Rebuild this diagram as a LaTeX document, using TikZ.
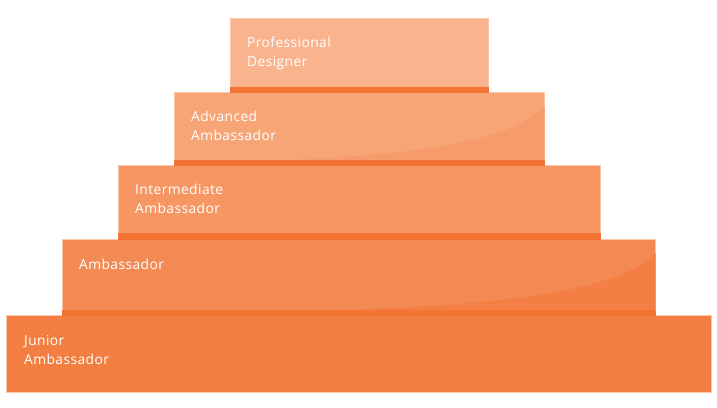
\documentclass[tikz,border=0pt]{standalone}
\usepackage{fontspec}
\setmainfont[LetterSpace=3]{Open Sans}
\usepackage{xcolor}
\usepackage{tikz}
\usetikzlibrary{positioning,calc}
\definecolor{tierA}{HTML}{F9B48E}
\definecolor{tierB}{HTML}{F7A576}
\definecolor{tierBshade}{HTML}{F69C6A}
\definecolor{tierC}{HTML}{F69763}
\definecolor{tierD}{HTML}{F48A53}
\definecolor{tierDshade}{HTML}{F37F45}
\definecolor{tierE}{HTML}{F27E41}
\definecolor{stripdark}{HTML}{F37333}
\definecolor{tieredge}{HTML}{FBC7A9}
\tikzset{
  tierbox/.style={rectangle,draw=tieredge,line width=0.6pt,anchor=north west,inner sep=0pt},
  strip/.style={fill=stripdark},
  tierlabel/.style={anchor=north west,align=left,inner sep=0pt,text=white,font=\fontsize{13.8}{19}\selectfont}
}

\begin{document}
\begin{tikzpicture}[x=1pt,y=-1pt]
  \useasboundingbox (0,0) rectangle (717,407);
  % tiers, top to bottom
  \node[tierbox,fill=tierA,minimum width=258,minimum height=74] (prof) at (230,18) {};
  \node[tierbox,fill=tierB,minimum width=370,minimum height=73] (adv) at (174,92) {};
  \node[tierbox,fill=tierC,minimum width=482,minimum height=74] (inter) at (118,165) {};
  \node[tierbox,fill=tierD,minimum width=593,minimum height=76] (amb) at (62,239) {};
  \node[tierbox,fill=tierE,minimum width=705,minimum height=77] (junior) at (6,315) {};
  % soft shading
  \fill[tierBshade] ([yshift=-14pt]adv.north east) .. controls ([xshift=-30pt,yshift=-48pt]adv.north east) and ([xshift=-125pt,yshift=-63pt]adv.north east) .. ([xshift=-255pt,yshift=6pt]adv.south east) -- ([yshift=6pt]adv.south east) -- cycle;
  \fill[tierDshade] ([yshift=-14pt]amb.north east) .. controls ([xshift=-32pt,yshift=-50pt]amb.north east) and ([xshift=-150pt,yshift=-67pt]amb.north east) .. ([xshift=-315pt,yshift=6pt]amb.south east) -- ([yshift=6pt]amb.south east) -- cycle;
  % dark strips
  \fill[strip] ([yshift=6pt]prof.south west) rectangle (prof.south east);
  \fill[strip] ([yshift=6pt]adv.south west) rectangle (adv.south east);
  \fill[strip] ([yshift=7pt]inter.south west) rectangle (inter.south east);
  \fill[strip] ([yshift=6pt]amb.south west) rectangle (amb.south east);
  % labels
  \node[tierlabel] (profText) at ([xshift=17pt,yshift=-19pt]prof.north west) {Professional\\Designer};
  \node[tierlabel] (advText) at ([xshift=17pt,yshift=-19pt]adv.north west) {Advanced\\Ambassador};
  \node[tierlabel] (interText) at ([xshift=17pt,yshift=-19pt]inter.north west) {Intermediate\\Ambassador};
  \node[tierlabel] (ambText) at ([xshift=17pt,yshift=-20pt]amb.north west) {Ambassador};
  \node[tierlabel] (juniorText) at ([xshift=18pt,yshift=-20pt]junior.north west) {Junior\\Ambassador};
\end{tikzpicture}
\end{document}
